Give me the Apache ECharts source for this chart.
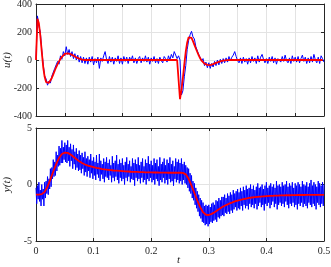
<!DOCTYPE html>
<html><head><meta charset="utf-8">
<script src="https://cdn.jsdelivr.net/npm/echarts@6/dist/echarts.min.js"></script>
<style>html,body{margin:0;padding:0;background:#fff}#c{width:331px;height:267px}</style>
</head><body><div id="c"></div>
<script>
// sampling steps (seconds)
const dtU = 0.0025;
const dtYMeas = 0.00125;
const dtYModel = 0.005;

// u(t): model input (red), sampled every 0.0025 s
const uModel = [0,295,262,175,60,-50,-120,-158,-168,-163,-150,-128,-103,-77,-52,-30,-10,8,23,35,43,47,48,46,42,37,31,25,19,14,10,6,3,1,
0,0,0,0,0,0,0,0,0,0,0,0,0,0,0,0,0,0,0,0,0,0,0,0,0,0,0,0,0,0,0,0,0,0,0,0,0,0,0,0,0,0,0,0,0,0,0,0,0,0,0,0,0,0,0,0,0,0,0,0,0,0,0,0,0,0,
-280,-215,-130,-30,60,125,162,170,158,135,108,82,57,33,12,-5,-17,-26,-32,-35,-37,-36,-33,-29,-25,-21,-17,-13,-10,-7,-5,-3,-2,-1,
0,0,0,0,0,0,0,0,0,0,0,0,0,0,0,0,0,0,0,0,0,0,0,0,0,0,0,0,0,0,0,0,0,0,0,0,0,0,0,0,0,0,0,0,0,0,0,0,0,0,0,0,0,0,0,0,0,0,0,0,0,0,0,0,0,0];

// u(t): measured input (blue), sampled every 0.0025 s
const uMeas = [10,315,240,200,70,-30,-115,-135,-180,-150,-165,-115,-120,-60,-70,-10,-30,30,5,60,
30,95,40,75,25,60,10,45,0,35,-15,25,-20,20,-25,15,-30,20,-15,25,
-35,10,-20,20,-60,15,-10,30,60,5,-25,25,-15,20,-30,15,-10,30,-25,15,
-30,25,-10,20,-25,20,-5,30,-20,15,-25,10,25,-20,15,-10,30,-15,20,-30,
15,-10,25,-20,10,-25,20,-5,-20,25,10,-15,30,0,40,15,60,35,10,30,
0,-250,-220,-120,-40,75,140,180,205,165,150,95,95,40,45,-5,10,-40,-15,-55,
-20,-60,-25,-50,-10,-40,0,-35,5,-25,10,-20,15,-15,25,-5,20,35,60,25,
-5,-20,15,-25,20,-15,10,-30,15,-20,25,-10,15,-25,30,-15,20,40,5,-20,
10,-25,20,-10,25,-20,15,-30,10,20,-15,25,-10,35,-5,-20,15,-25,30,-10,
20,-15,25,-20,10,35,-10,20,-25,15,-20,25,-15,40,0,-20,20,-25,30,10,-15];

// y(t): model output (red), sampled every 0.005 s
const yModel = [-0.9,-0.9,-0.85,-0.65,-0.2,0.45,1.15,1.8,2.35,2.7,2.83,2.8,2.65,2.45,2.25,2.05,1.9,1.77,1.67,1.6,
1.53,1.47,1.42,1.37,1.33,1.3,1.27,1.24,1.22,1.2,1.18,1.16,1.15,1.13,1.12,1.11,1.1,1.09,1.08,1.07,
1.07,1.06,1.06,1.05,1.05,1.05,1.04,1.04,1.04,1.04,1.04,1.03,0.9,0.5,-0.1,-0.75,-1.4,-2.0,-2.45,-2.68,
-2.7,-2.6,-2.45,-2.27,-2.1,-1.95,-1.82,-1.7,-1.6,-1.5,-1.42,-1.35,-1.29,-1.24,-1.19,-1.15,-1.12,-1.09,-1.07,-1.05,
-1.03,-1.01,-1.0,-0.99,-0.98,-0.97,-0.96,-0.95,-0.95,-0.94,-0.94,-0.93,-0.93,-0.93,-0.92,-0.92,-0.92,-0.92,-0.91,-0.91,-0.91];

// y(t): measured output (blue), sampled every 0.00125 s
const yMeas = [
-0.3,-1.7,-0.1,-1.3,0.2,-1.5,-0.5,-1.9,0.0,-1.3,-0.4,-1.9,0.2,-1.2,0.3,-0.8,0.7,-0.9,0.5,-0.4,
1.4,-0.2,1.5,0.5,2.2,0.7,2.0,0.8,2.9,1.2,2.6,1.6,3.4,1.7,3.2,1.9,3.9,1.9,3.3,2.2,
3.7,2.0,3.5,1.9,3.9,2.1,3.3,1.6,3.6,2.1,3.1,1.4,3.5,1.8,2.9,1.3,3.2,1.5,2.7,1.2,
3.0,1.3,2.6,1.0,2.8,1.4,2.4,0.8,2.9,1.1,2.3,0.7,2.5,1.2,2.2,0.6,2.7,1.0,2.1,0.5,
2.4,0.8,2.0,0.4,2.6,0.9,1.9,0.6,2.7,0.3,2.1,0.9,1.8,0.5,2.3,0.2,2.0,0.7,2.4,0.6,
1.9,0.4,2.2,0.8,1.7,0.2,2.5,0.6,1.9,0.3,2.1,0.7,2.6,0.4,1.8,0.1,2.2,0.6,1.9,0.3,
2.3,0.5,1.7,0.0,2.0,0.6,2.4,0.3,1.8,0.7,2.1,0.2,1.6,0.5,2.3,0.4,1.9,-0.1,2.2,0.6,
1.8,0.3,2.4,0.5,1.7,0.1,2.0,0.6,2.3,0.2,1.6,0.4,2.2,0.0,1.9,0.5,2.5,0.3,1.8,0.6,
2.1,0.2,1.7,0.4,2.3,0.0,1.9,0.5,2.2,0.3,1.6,-0.1,2.4,0.4,1.8,0.2,2.0,0.6,2.3,0.1,
1.7,0.4,2.2,0.0,1.9,0.5,2.4,0.2,1.8,0.3,2.1,-0.1,1.6,0.5,2.3,0.2,2.0,0.4,2.2,0.1,
1.9,0.3,2.3,0.0,1.8,0.4,2.0,0.1,1.7,0.0,1.5,-0.3,1.4,-0.6,1.0,-0.8,0.8,-1.2,0.3,-1.4,
0.1,-1.8,-0.3,-2.1,-0.6,-2.4,-0.9,-2.8,-1.2,-3.0,-1.4,-3.3,-1.6,-3.4,-1.9,-3.6,-1.8,-3.5,-1.9,-3.7,
-1.8,-3.5,-2.0,-3.3,-1.7,-3.4,-1.6,-3.2,-1.8,-3.1,-1.4,-3.3,-1.5,-2.9,-1.2,-3.0,-1.4,-2.8,-1.1,-2.7,
-1.1,-2.8,-0.9,-2.5,-1.2,-2.6,-0.8,-2.4,-1.0,-2.6,-0.7,-2.3,-0.9,-2.5,-0.5,-2.2,-0.8,-2.0,-0.6,-2.3,
-0.4,-2.1,-0.7,-2.2,-0.3,-1.9,-0.6,-2.3,-0.2,-1.8,-0.5,-2.1,-0.1,-1.9,-0.4,-2.2,-0.3,-1.7,0.0,-2.0,
-0.4,-1.8,-0.1,-2.1,-0.5,-1.7,-0.2,-2.2,0.1,-1.9,-0.3,-1.6,-0.2,-2.0,0.0,-1.8,-0.4,-2.3,-0.1,-1.7,
0.2,-1.9,-0.3,-1.6,-0.1,-2.1,0.1,-1.8,-0.2,-1.5,0.0,-2.0,-0.3,-1.7,0.3,-2.2,-0.1,-1.8,0.0,-1.6,
-0.2,-1.9,0.2,-1.7,-0.1,-2.0,0.0,-1.5,0.3,-1.8,-0.2,-2.1,0.1,-1.7,-0.1,-1.9,0.2,-1.6,-0.3,-2.0,
0.1,-1.8,-0.1,-2.2,0.2,-1.7,0.0,-1.9,-0.2,-1.6,0.3,-2.0,0.0,-1.7,-0.1,-1.9,0.2,-2.1,-0.2,-1.6,
0.1,-1.8,0.4,-2.0,-0.1,-1.7,0.2,-1.9,0.0,-2.2,-0.2,-1.6,0.3,-1.8,0.1,-2.0,-0.1,-1.7,0.2,-1.9,
0.0];

const uTicks = [-400,-200,0,200,400];
const yTicks = [-5,0,5];
const tTicks = [0,0.1,0.2,0.3,0.4,0.5];

function pairs(arr, step){ return arr.map((v,i)=>[+(i*step).toFixed(6), v]); }

const AX = '#262626', GRID = '#e3e3e3', FONT = '"Liberation Serif","DejaVu Serif",serif';
const tick = {show:true, inside:true, length:3, lineStyle:{color:AX, width:1}};
function xAx(gi, interval, labels, pos){
  return {type:'value', gridIndex:gi, min:0, max:0.5, interval:interval, position:pos,
    axisLine:{show:true, onZero:false, lineStyle:{color:AX, width:1}},
    axisTick:tick,
    axisLabel:{show:labels, color:AX, fontFamily:FONT, fontSize:10, margin:5},
    splitLine:{show:pos==='bottom', lineStyle:{color:GRID, width:1}}};
}
function yAx(gi, min, max, interval, labels, pos, name){
  return {type:'value', gridIndex:gi, min:min, max:max, interval:interval, position:pos,
    name: name || '', nameLocation:'middle', nameGap:23, nameRotate:90, nameMoveOverlap:false,
    nameTextStyle:{color:AX, fontFamily:FONT, fontSize:11, fontStyle:'italic'},
    axisLine:{show:true, onZero:false, lineStyle:{color:AX, width:1}},
    axisTick:tick,
    axisLabel:{show:labels, color:AX, fontFamily:FONT, fontSize:10, margin:4},
    splitLine:{show:pos==='left', lineStyle:{color:GRID, width:1}}};
}

const chart = echarts.init(document.getElementById('c'), null, {renderer:'canvas'});
chart.setOption({
  animation:false,
  backgroundColor:'#fff',
  grid:[{left:36, right:7, top:4, height:112, containLabel:false, outerBoundsMode:'none'},
        {left:36, right:7, top:128, height:113, containLabel:false, outerBoundsMode:'none'}],
  xAxis:[xAx(0,0.05,false,'bottom'), xAx(0,0.05,false,'top'),
         xAx(1,0.1,true,'bottom'), xAx(1,0.1,false,'top')],
  yAxis:[yAx(0,-400,400,200,true,'left','u(t)'), yAx(0,-400,400,200,false,'right'),
         yAx(1,-5,5,5,true,'left','y(t)'), yAx(1,-5,5,5,false,'right')],
  graphic:[{type:'text', left:177, top:255, style:{text:'t', fill:AX, font:'italic 11px "Liberation Serif", serif'}}],
  series:[
    {type:'line', xAxisIndex:0, yAxisIndex:0, data:pairs(uMeas,dtU), showSymbol:false, lineStyle:{color:'#0000ff', width:1}, silent:true},
    {type:'line', xAxisIndex:0, yAxisIndex:0, data:pairs(uModel,dtU), showSymbol:false, lineStyle:{color:'#ff0000', width:1.8}, silent:true},
    {type:'line', xAxisIndex:2, yAxisIndex:2, data:pairs(yMeas,dtYMeas), showSymbol:false, lineStyle:{color:'#0000ff', width:1}, silent:true},
    {type:'line', xAxisIndex:2, yAxisIndex:2, data:pairs(yModel,dtYModel), showSymbol:false, lineStyle:{color:'#ff0000', width:1.8}, silent:true}
  ]
});
</script></body></html>
